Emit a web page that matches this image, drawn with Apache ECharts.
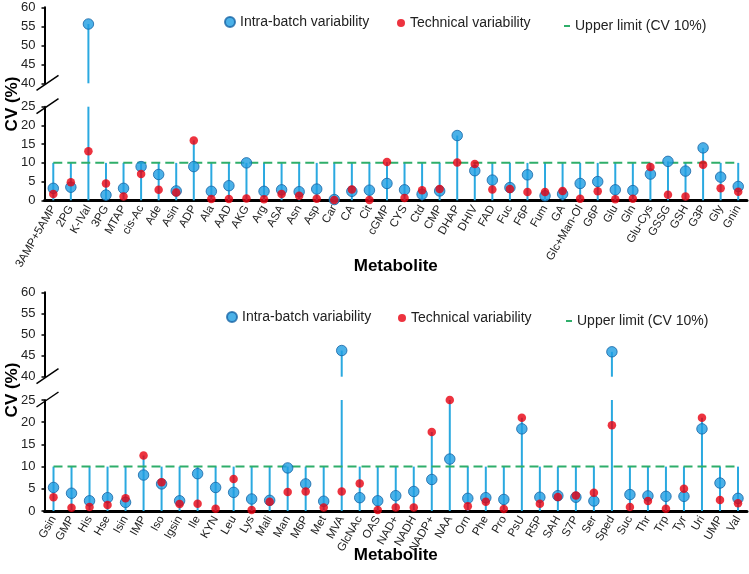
<!DOCTYPE html>
<html><head><meta charset="utf-8">
<script src="https://cdn.jsdelivr.net/npm/echarts@6/dist/echarts.min.js"></script>
<style>html,body{margin:0;padding:0;background:#fff}#c{width:749px;height:574px}</style>
</head><body><div id="c"></div>
<script>
// ---------- data ----------
const catsTop = ['3AMP+5AMP','2PG','K-IVal','3PG','MTAP','cis-Ac','Ade','Asin','ADP','Ala','AAD','AKG','Arg','ASA','Asn','Asp','Car','CA','Cit','cGMP','CYS','Ctd','CMP','DHAP','DHIV','FAD','Fuc','F6P','Fum','GA','Glc+Man-Ol','G6P','Glu','Gln','Glu-Cys','GSSG','GSH','G3P','Gly','Gnin'];
const intraTop = [3.2,3.5,55.6,1.4,3.2,9.0,6.9,2.5,9.0,2.4,3.9,10.0,2.4,2.8,2.3,3.0,0.2,2.4,2.7,4.5,2.8,1.6,2.5,17.3,7.9,5.4,3.4,6.8,1.2,1.7,4.5,5.0,2.8,2.6,7.0,10.4,7.8,14.0,6.2,3.7];
const techTop  = [1.7,4.8,13.1,4.5,1.0,7.0,2.8,2.1,16.0,0.35,0.35,0.5,0.3,1.7,1.2,0.4,0.1,2.9,0.1,10.2,0.6,2.7,3.0,10.1,9.7,2.9,3.0,2.2,2.2,2.5,0.4,2.4,0.3,0.4,8.9,1.5,1.0,9.5,3.2,2.3];

const catsBot = ['Gsin','GMP','His','Hse','Isin','IMP','Iso','Igsin','Ile','KYN','Leu','Lys','Mali','Man','M6P','Met','MVA','GlcNAc','OAS','NAD+','NADH','NADP+','NAA','Orn','Phe','Pro','PsU','R5P','SAH','S7P','Ser','Sped','Suc','Thr','Trp','Tyr','Uri','UMP','Val'];
const intraBot = [5.3,4.0,2.3,3.0,1.95,8.1,6.1,2.3,8.4,5.3,4.2,2.7,2.4,9.7,6.1,2.2,46.2,3.0,2.3,3.45,4.4,7.1,11.7,2.85,3.0,2.6,18.5,3.1,3.45,3.1,2.25,45.9,3.7,3.4,3.3,3.3,18.5,6.3,2.85];
const techBot  = [3.1,0.75,0.9,1.35,2.85,12.5,6.45,1.6,1.65,0.5,7.2,0.2,2.1,4.3,4.4,0.8,4.4,6.2,0.2,0.8,0.8,17.8,25.0,1.05,2.1,0.45,21.0,1.65,3.15,3.5,4.1,19.3,0.9,2.25,0.5,5.0,21.0,2.5,1.75];

const LIMIT = 10;              // upper limit CV 10%
const LOWER_MIN = 0, LOWER_MAX = 25;
const UPPER_MIN = 40, UPPER_MAX = 60;
const TICK_STEP = 5;

const NAME_INTRA = 'Intra-batch variability';
const NAME_TECH = 'Technical variability';
const NAME_LIMIT = 'Upper limit (CV 10%)';

// ---------- style / layout ----------
const FONT = '"Liberation Sans", Arial, sans-serif';
const C_BLUE = '#1e9de2', C_BLUE_B = '#1664a5', C_RED = '#e8000f', C_DROP = '#2aa9e0', C_GREEN = '#2fae6a';
const GRID_LEFT = 44.5, GRID_RIGHT = 2;

const panels = [
  {cats: catsTop, intra: intraTop, tech: techTop,
   up: {top: 7.3, height: 76}, low: {top: 106.7, height: 93.6},
   nameGap: 58, legendTop: 15, legendX: [224, 397, 564], titleY: 104},
  {cats: catsBot, intra: intraBot, tech: techBot,
   up: {top: 292.3, height: 84.4}, low: {top: 400, height: 111},
   nameGap: 36, legendTop: 310, legendX: [226, 398, 566], titleY: 390}
];

const grid = [], xAxis = [], yAxis = [], series = [], legend = [], graphic = [];

function yAx(gi, min, max) {
  return {gridIndex: gi, type: 'value', min: min, max: max, interval: TICK_STEP,
    axisLine: {show: true, lineStyle: {color: '#000', width: 2}},
    axisTick: {show: true, length: 3, lineStyle: {color: '#000', width: 1.5}},
    axisLabel: {fontSize: 13, color: '#222', margin: 9, fontFamily: FONT},
    splitLine: {show: false}};
}

panels.forEach((p, i) => {
  const gu = 2 * i, gl = 2 * i + 1;
  grid.push({left: GRID_LEFT, right: GRID_RIGHT, top: p.up.top, height: p.up.height});
  grid.push({left: GRID_LEFT, right: GRID_RIGHT, top: p.low.top, height: p.low.height});
  xAxis.push({gridIndex: gu, type: 'category', data: p.cats, show: false});
  xAxis.push({gridIndex: gl, type: 'category', data: p.cats,
    axisLine: {lineStyle: {color: '#000', width: 3}}, axisTick: {show: false},
    axisLabel: {rotate: 60, interval: 0, fontSize: 11.5, color: '#222', margin: 6, fontFamily: FONT},
    name: 'Metabolite', nameLocation: 'middle', nameGap: p.nameGap, nameMoveOverlap: false,
    nameTextStyle: {fontSize: 17, fontWeight: 'bold', color: '#000', fontFamily: FONT}});
  yAxis.push(yAx(gu, UPPER_MIN, UPPER_MAX));
  yAxis.push(yAx(gl, LOWER_MIN, LOWER_MAX));

  const drop = p.cats.map((_, k) => Math.max(LIMIT, p.intra[k], p.tech[k]));
  const lowOnly = arr => arr.map(v => v <= LOWER_MAX ? v : '-');
  const upOnly = arr => arr.map(v => v >= UPPER_MIN ? v : '-');

  series.push({type: 'bar', xAxisIndex: gl, yAxisIndex: gl, data: drop, barWidth: 2, silent: true,
    itemStyle: {color: C_DROP}, z: 1, clip: true});
  series.push({type: 'bar', xAxisIndex: gu, yAxisIndex: gu, data: upOnly(drop), barWidth: 2, silent: true,
    itemStyle: {color: C_DROP}, z: 1, clip: true});
  series.push({type: 'line', name: NAME_LIMIT, xAxisIndex: gl, yAxisIndex: gl,
    data: p.cats.map(() => LIMIT), symbol: 'none', silent: true, z: 2,
    itemStyle: {color: C_GREEN}, lineStyle: {color: C_GREEN, width: 2, type: [9, 5]}});
  const blueStyle = {color: C_BLUE, borderColor: C_BLUE_B, borderWidth: 1};
  const redStyle = {color: C_RED};
  series.push({type: 'scatter', name: NAME_INTRA, xAxisIndex: gl, yAxisIndex: gl, data: lowOnly(p.intra),
    symbolSize: 10.5, itemStyle: blueStyle, z: 3, clip: false});
  series.push({type: 'scatter', name: NAME_INTRA, xAxisIndex: gu, yAxisIndex: gu, data: upOnly(p.intra),
    symbolSize: 10.5, itemStyle: blueStyle, z: 3, clip: false});
  series.push({type: 'scatter', name: NAME_TECH, xAxisIndex: gl, yAxisIndex: gl, data: lowOnly(p.tech),
    symbolSize: 8.5, itemStyle: redStyle, z: 4, clip: false});
  series.push({type: 'scatter', name: NAME_TECH, xAxisIndex: gu, yAxisIndex: gu, data: upOnly(p.tech),
    symbolSize: 8.5, itemStyle: redStyle, z: 4, clip: false});

  const lt = {fontSize: 14, color: '#222', fontFamily: FONT};
  legend.push({data: [{name: NAME_INTRA, icon: 'circle'}], left: p.legendX[0], top: p.legendTop,
    itemWidth: 10, itemHeight: 10, padding: 0, selectedMode: false, textStyle: lt});
  legend.push({data: [{name: NAME_TECH, icon: 'circle'}], left: p.legendX[1], top: p.legendTop + 1,
    itemWidth: 8, itemHeight: 8, padding: 0, selectedMode: false, textStyle: lt});
  legend.push({data: [{name: NAME_LIMIT, icon: 'rect', itemStyle: {color: C_GREEN, borderWidth: 0}}],
    left: p.legendX[2], top: p.legendTop + 4,
    itemWidth: 6, itemHeight: 2, padding: 0, selectedMode: false, textStyle: lt});

  graphic.push({type: 'text', x: 12, y: p.titleY, rotation: Math.PI / 2,
    style: {text: 'CV (%)', fill: '#000', font: 'bold 17px ' + FONT, align: 'center', verticalAlign: 'middle'}});
});

const chart = echarts.init(document.getElementById('c'), null, {renderer: 'canvas'});
chart.setOption({backgroundColor: '#fff', animation: false, grid, xAxis, yAxis, series, legend, graphic});

// axis-break slashes at the ends of the broken y axis
const breaks = [];
panels.forEach((p, i) => {
  const yTop = chart.convertToPixel({yAxisIndex: 2 * i}, UPPER_MIN);
  const yLow = chart.convertToPixel({yAxisIndex: 2 * i + 1}, LOWER_MAX);
  [yTop, yLow].forEach(y => {
    breaks.push({type: 'line', shape: {x1: GRID_LEFT - 8, y1: y + 7, x2: GRID_LEFT + 14, y2: y - 8},
      style: {stroke: '#000', lineWidth: 1.5}, z: 10});
  });
});
chart.setOption({graphic: graphic.concat(breaks)});
</script></body></html>
